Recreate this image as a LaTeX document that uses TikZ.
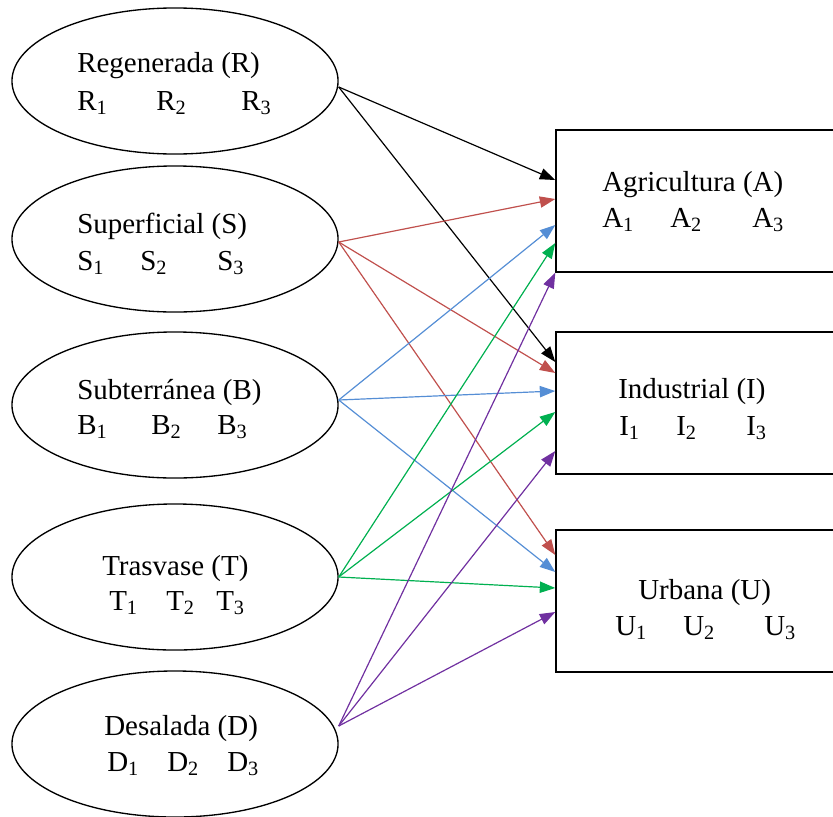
\documentclass[tikz,border=0pt]{standalone}
\usepackage{fontspec}
\setmainfont{Liberation Serif}
\usepackage{tikz}
\usetikzlibrary{arrows.meta,shapes.geometric,calc}
\usepackage{xcolor}
\definecolor{supred}{RGB}{192,80,77}
\definecolor{subblue}{RGB}{85,142,213}
\definecolor{trsgreen}{RGB}{0,176,80}
\definecolor{despurple}{RGB}{112,48,160}
\tikzstyle{source} = [ellipse, draw=black, line width=0.95pt, minimum width=8.15cm, minimum height=3.65cm, inner sep=0pt]
\tikzstyle{demand} = [rectangle, draw=black, line width=0.95pt, minimum width=8.6cm, minimum height=3.55cm, inner sep=0pt]
\tikzstyle{txt} = [anchor=base west, inner sep=0pt]
\tikzstyle{arrow} = [line width=0.85pt, -{Triangle[length=11pt,width=8pt]}]

\begin{document}
\begin{tikzpicture}[x=0.025cm, y=-0.025cm, font=\fontsize{20.6pt}{24pt}\selectfont]
\useasboundingbox (0,0) rectangle (833,816);
\clip (0,0) rectangle (833,816);

% Sources
\node (regenerada) [source] at (175,81) {};
\node (superficial) [source] at (175,239) {};
\node (subterranea) [source] at (175,405) {};
\node (trasvase) [source] at (175,577) {};
\node (desalada) [source] at (175,744) {};

% Uses
\node (agricultura) [demand] at (728,201) {};
\node (industrial) [demand] at (728,403) {};
\node (urbana) [demand] at (728,601) {};

% Source labels
\node (rtitle) [txt] at (77,72) {Regenerada (R)};
\node (r1) [txt] at (77,110) {R\textsubscript{1}};
\node (r2) [txt] at (156,110) {R\textsubscript{2}};
\node (r3) [txt] at (241,110) {R\textsubscript{3}};

\node (stitle) [txt] at (77,233) {Superficial (S)};
\node (s1) [txt] at (77,270) {S\textsubscript{1}};
\node (s2) [txt] at (140,270) {S\textsubscript{2}};
\node (s3) [txt] at (217,270) {S\textsubscript{3}};

\node (btitle) [txt] at (77,399) {Subterránea (B)};
\node (b1) [txt] at (77,434) {B\textsubscript{1}};
\node (b2) [txt] at (151,434) {B\textsubscript{2}};
\node (b3) [txt] at (217,434) {B\textsubscript{3}};

\node (ttitle) [txt] at (102,575) {Trasvase (T)};
\node (t1) [txt] at (109,610) {T\textsubscript{1}};
\node (t2) [txt] at (166,610) {T\textsubscript{2}};
\node (t3) [txt] at (216,610) {T\textsubscript{3}};

\node (dtitle) [txt] at (104,735) {Desalada (D)};
\node (d1) [txt] at (107,771) {D\textsubscript{1}};
\node (d2) [txt] at (167,771) {D\textsubscript{2}};
\node (d3) [txt] at (227,771) {D\textsubscript{3}};

% Use labels
\node (atitle) [txt] at (602,191) {Agricultura (A)};
\node (a1) [txt] at (602,227) {A\textsubscript{1}};
\node (a2) [txt] at (670,227) {A\textsubscript{2}};
\node (a3) [txt] at (752,227) {A\textsubscript{3}};

\node (ititle) [txt] at (618,398) {Industrial (I)};
\node (i1) [txt] at (619,435) {I\textsubscript{1}};
\node (i2) [txt] at (676,435) {I\textsubscript{2}};
\node (i3) [txt] at (746,435) {I\textsubscript{3}};

\node (utitle) [txt] at (638,599) {Urbana (U)};
\node (u1) [txt] at (615,635) {U\textsubscript{1}};
\node (u2) [txt] at (683,635) {U\textsubscript{2}};
\node (u3) [txt] at (764,635) {U\textsubscript{3}};

% Connections
\draw[arrow, black] ($(regenerada.east)+(0,6)$) -- ($(agricultura.west)+(0,-21)$);
\draw[arrow, black] ($(regenerada.east)+(0,6)$) -- ($(industrial.west)+(0,-41)$);

\draw[arrow, supred] ($(superficial.east)+(0,3)$) -- ($(agricultura.west)+(0,-2)$);
\draw[arrow, supred] ($(superficial.east)+(0,3)$) -- ($(industrial.west)+(0,-30)$);
\draw[arrow, supred] ($(superficial.east)+(0,3)$) -- ($(urbana.west)+(0,-46)$);

\draw[arrow, subblue] ($(subterranea.east)+(0,-5)$) -- ($(agricultura.west)+(0,24)$);
\draw[arrow, subblue] ($(subterranea.east)+(0,-5)$) -- ($(industrial.west)+(0,-12)$);
\draw[arrow, subblue] ($(subterranea.east)+(0,-5)$) -- ($(urbana.west)+(0,-29)$);

\draw[arrow, trsgreen] (trasvase.east) -- ($(agricultura.west)+(0,42)$);
\draw[arrow, trsgreen] (trasvase.east) -- ($(industrial.west)+(0,9)$);
\draw[arrow, trsgreen] (trasvase.east) -- ($(urbana.west)+(0,-13)$);

\draw[arrow, despurple] ($(desalada.east)+(0,-18)$) -- (agricultura.south west);
\draw[arrow, despurple] ($(desalada.east)+(0,-18)$) -- ($(industrial.west)+(0,48)$);
\draw[arrow, despurple] ($(desalada.east)+(0,-18)$) -- ($(urbana.west)+(0,11)$);
\end{tikzpicture}
\end{document}
